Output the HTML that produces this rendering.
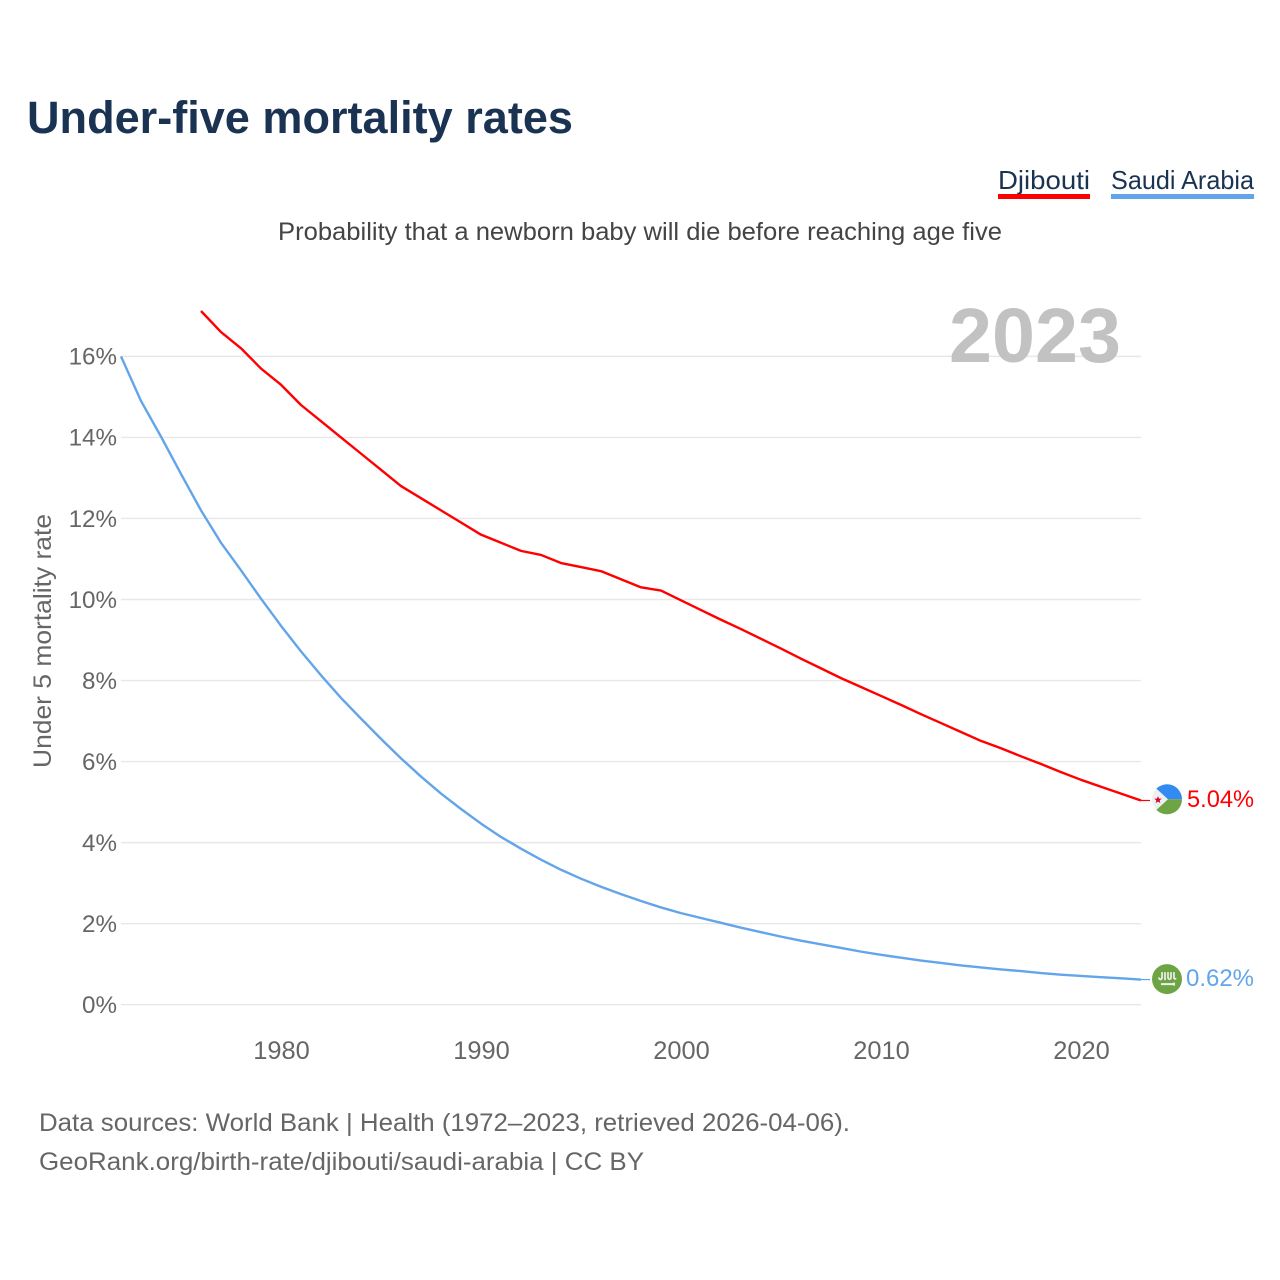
<!DOCTYPE html>
<html lang="en">
<head>
<meta charset="utf-8">
<title>Under-five mortality rates</title>
<style>
html,body{margin:0;padding:0;background:#fff;width:1280px;height:1280px;overflow:hidden}
svg{display:block;font-family:"Liberation Sans",sans-serif}
</style>
</head>
<body>
<svg id="chart" width="1280" height="1280" viewBox="0 0 1280 1280" xmlns="http://www.w3.org/2000/svg">
  <text x="27" y="133" font-size="45" font-weight="700" fill="#1a3353" textLength="546" lengthAdjust="spacingAndGlyphs">Under-five mortality rates</text>

  <g>
    <g>
      <text x="998" y="189" font-size="26" fill="#1a3353" textLength="92" lengthAdjust="spacingAndGlyphs">Djibouti</text>
      <rect x="998" y="194" width="92" height="5" fill="#ff0000"></rect>
    </g>
    <g>
      <text x="1111" y="189" font-size="26" fill="#1a3353" textLength="143" lengthAdjust="spacingAndGlyphs">Saudi Arabia</text>
      <rect x="1111" y="194" width="143" height="5" fill="#62a5ea"></rect>
    </g>
  </g>

  <text x="278" y="240" font-size="25" fill="#444444" textLength="724" lengthAdjust="spacingAndGlyphs">Probability that a newborn baby will die before reaching age five</text>

  <g id="grid"></g>

  <text x="949" y="362" font-size="77" font-weight="700" fill="#c0c0c0" fill-opacity="0.97" textLength="172" lengthAdjust="spacingAndGlyphs">2023</text>

  <g id="yAxis"></g>
  <g id="xAxis"></g>

  <text transform="translate(51 641) rotate(-90)" text-anchor="middle" font-size="25" fill="#666666" textLength="254" lengthAdjust="spacingAndGlyphs">Under 5 mortality rate</text>

  <g id="series"></g>
  <g id="ends"></g>

  <text x="39" y="1131" font-size="25" fill="#666666" textLength="811" lengthAdjust="spacingAndGlyphs">Data sources: World Bank | Health (1972–2023, retrieved 2026-04-06).</text>
  <text x="39" y="1170" font-size="25" fill="#666666" textLength="605" lengthAdjust="spacingAndGlyphs">GeoRank.org/birth-rate/djibouti/saudi-arabia | CC BY</text>
</svg>

<script>
const saudiYears = [1972,1973,1974,1975,1976,1977,1978,1979,1980,1981,1982,1983,1984,1985,1986,1987,1988,1989,1990,1991,1992,1993,1994,1995,1996,1997,1998,1999,2000,2001,2002,2003,2004,2005,2006,2007,2008,2009,2010,2011,2012,2013,2014,2015,2016,2017,2018,2019,2020,2021,2022,2023];
const saudiValues = [16.0,14.9,14.02,13.1,12.2,11.4,10.72,10.02,9.35,8.72,8.13,7.57,7.06,6.56,6.08,5.63,5.21,4.83,4.47,4.14,3.85,3.58,3.33,3.11,2.91,2.73,2.56,2.4,2.26,2.14,2.02,1.9,1.79,1.68,1.58,1.49,1.4,1.31,1.23,1.16,1.09,1.03,0.97,0.92,0.87,0.83,0.78,0.74,0.71,0.68,0.65,0.62];
const djiboutiYears = [1976,1977,1978,1979,1980,1981,1982,1983,1984,1985,1986,1987,1988,1989,1990,1991,1992,1993,1994,1995,1996,1997,1998,1999,2000,2001,2002,2003,2004,2005,2006,2007,2008,2009,2010,2011,2012,2013,2014,2015,2016,2017,2018,2019,2020,2021,2022,2023];
const djiboutiValues = [17.12,16.6,16.2,15.7,15.3,14.8,14.4,14.0,13.6,13.2,12.8,12.5,12.2,11.9,11.6,11.4,11.2,11.1,10.9,10.8,10.7,10.5,10.3,10.22,9.98,9.74,9.5,9.27,9.03,8.79,8.54,8.3,8.06,7.84,7.62,7.4,7.17,6.95,6.73,6.51,6.33,6.13,5.94,5.74,5.55,5.38,5.21,5.04];
const yTickValues = [0,2,4,6,8,10,12,14,16];
const xTickValues = [1980,1990,2000,2010,2020];

const NS = 'http://www.w3.org/2000/svg';
function xScale(year){ return 121 + (year - 1972) * 20; }
function yScale(value){ return 1004.7 - value * 40.52; }
function make(tag, attrs, parent, text){
  const el = document.createElementNS(NS, tag);
  for (const k in attrs) el.setAttribute(k, attrs[k]);
  if (text !== undefined) el.textContent = text;
  parent.appendChild(el);
  return el;
}
function pathFrom(years, values){
  return years.map((yr, i) => (i ? 'L' : 'M') + xScale(yr) + ' ' + yScale(values[i]).toFixed(2)).join(' ');
}

const grid = document.getElementById('grid');
const yAxis = document.getElementById('yAxis');
const xAxis = document.getElementById('xAxis');
const seriesG = document.getElementById('series');
const ends = document.getElementById('ends');

yTickValues.forEach(v => {
  const line = make('line', {x1:121, x2:1141, y1:yScale(v), y2:yScale(v), stroke:'#e8e8e8', 'stroke-width':1.4}, grid);
  
  
  const label = make('text', {x:117, y:yScale(v)+8.3, 'text-anchor':'end', 'font-size':24.2, fill:'#666666'}, yAxis, v + '%');
  
  
});

xTickValues.forEach(yr => {
  const label = make('text', {x:xScale(yr)+0.5, y:1059, 'text-anchor':'middle', 'font-size':25.4, fill:'#666666'}, xAxis, String(yr));
  
  
});

const djiboutiLine = make('path', {d:pathFrom(djiboutiYears, djiboutiValues), fill:'none', stroke:'#ff0000', 'stroke-width':2.4, 'stroke-linejoin':'round'}, seriesG);


const saudiLine = make('path', {d:pathFrom(saudiYears, saudiValues), fill:'none', stroke:'#62a5ea', 'stroke-width':2.4, 'stroke-linejoin':'round'}, seriesG);



/* Djibouti end marker */
const dLast = djiboutiValues[djiboutiValues.length - 1];
const dy = yScale(dLast);
const dConn = make('line', {x1:1141, x2:1150, y1:dy, y2:dy, stroke:'#ff0000', 'stroke-width':1.2}, ends);


const dFlag = make('g', {transform:'translate(1167 ' + (dy - 1.2) + ')'}, ends);


make('circle', {r:15, fill:'#f0f0f0'}, dFlag);
make('path', {d:'M-10.6 -10.6 A15 15 0 0 1 15 0 L1 0 Z', fill:'#338af3'}, dFlag);
make('path', {d:'M-10.6 10.6 A15 15 0 0 0 15 0 L1 0 Z', fill:'#6da544'}, dFlag);
make('path', {d:'M-9 -3.2 L-8 -0.6 L-5.2 -0.6 L-7.4 1.1 L-6.6 3.8 L-9 2.2 L-11.4 3.8 L-10.6 1.1 L-12.8 -0.6 L-10 -0.6 Z', fill:'#d80027'}, dFlag);
const dLabel = make('text', {x:1187, y:dy+6.5, 'font-size':24.5, fill:'#ff0000', textLength:67, lengthAdjust:'spacingAndGlyphs'}, ends, dLast.toFixed(2) + '%');



/* Saudi Arabia end marker */
const sLast = saudiValues[saudiValues.length - 1];
const sy = yScale(sLast);
const sConn = make('line', {x1:1141, x2:1150, y1:sy, y2:sy, stroke:'#62a5ea', 'stroke-width':1.2}, ends);


const sFlag = make('g', {transform:'translate(1167 ' + (sy - 0.5) + ')'}, ends);


make('circle', {r:15, fill:'#6da544'}, sFlag);
make('path', {d:'M-8.5 -1.5 Q-6.5 2 -5 -1 V-7 M-2 -7 V1 M1 -7 V-1 Q2.5 1.5 4 -1 V-7 M7 -7 V-1 Q8 1 9 -1', fill:'none', stroke:'#f0f0f0', 'stroke-width':1.7}, sFlag);
make('path', {d:'M-6 5H7 M7 3.5V6.5', fill:'none', stroke:'#f0f0f0', 'stroke-width':2}, sFlag);
const sLabel = make('text', {x:1186, y:sy+6.5, 'font-size':24.5, fill:'#62a5ea', textLength:68, lengthAdjust:'spacingAndGlyphs'}, ends, sLast.toFixed(2) + '%');


</script>
</body>
</html>
